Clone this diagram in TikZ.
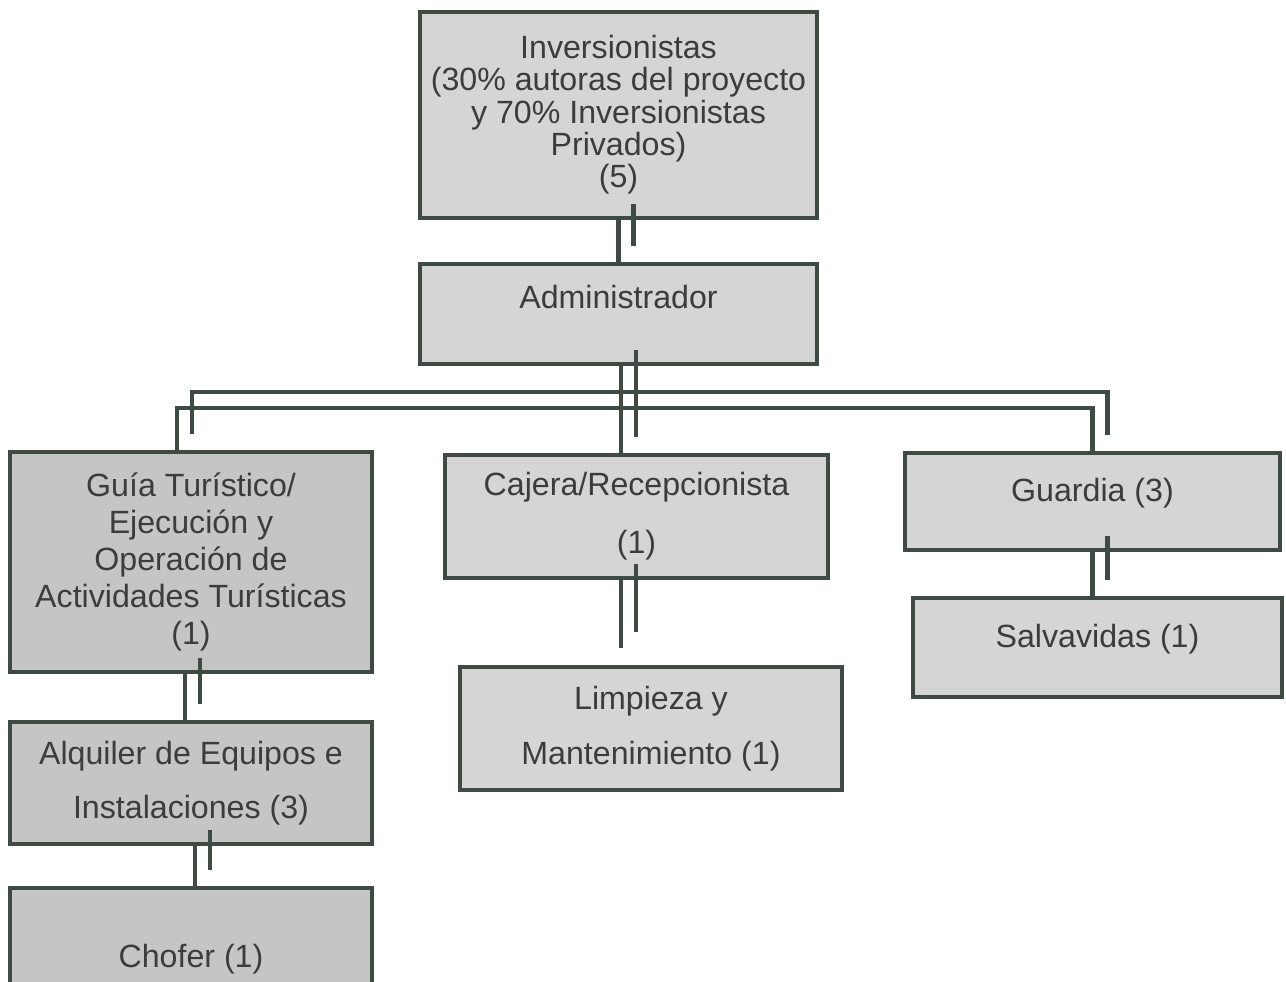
\documentclass[tikz,border=0pt]{standalone}
\usepackage{fontspec}
\setmainfont{Liberation Sans}
\usepackage{tikz}
\usetikzlibrary{positioning}

\definecolor{boxline}{HTML}{3E4B44}
\definecolor{lightfill}{HTML}{D5D5D5}
\definecolor{darkfill}{HTML}{C5C5C5}
\definecolor{textgray}{HTML}{3C3C3C}

% connectors between the units (drawn twice: line and its shifted copy)
\newcommand{\orglinks}{%
  \draw[link] (inv.south) -- (adm.north);
  \draw[link] (adm.south -| bus) -- (caj.north -| bus);
  \draw[link] ([xshift=-0.28cm]guia.north) |- (bus) -| (guard.north);
  \draw[link] (caj.south -| bus) -- ([yshift=0.34cm]limp.north -| bus);
  \draw[link] ([xshift=-0.12cm]guia.south) -- ([xshift=-0.12cm]alq.north);
  \draw[link] ([xshift=0.08cm]alq.south) -- ([xshift=0.08cm]chof.north);
  \draw[link] (guard.south) -- (guard.south |- salv.north);
}

\begin{document}
\begin{tikzpicture}[
      x=0.02cm, y=-0.02cm,
      unitbox/.style={rectangle, draw=boxline, line width=2.3pt, fill=lightfill,
        text=textgray, align=center, inner sep=0pt,
        font=\fontsize{18.3}{18.4}\selectfont},
      sidebox/.style={unitbox, fill=darkfill},
      link/.style={draw=boxline, line width=2.3pt},
      ]
      \useasboundingbox (0,0) rectangle (1286,982);
      %Nodes
      \node[unitbox, minimum width=7.94cm, minimum height=4.12cm] (inv) at (618.5,115)
        {Inversionistas\\(30\% autoras del proyecto\\y 70\% Inversionistas\\Privados)\\(5)};
      \node[unitbox, minimum width=7.94cm, minimum height=2.0cm,
        text height=13.3pt, text depth=19.5pt] (adm) [below=0.84cm of inv] {Administrador};

      \node[sidebox, minimum width=7.24cm, minimum height=4.4cm,
        font=\fontsize{18.3}{21}\selectfont] (guia) at (191,562)
        {Guía Turístico/\\Ejecución y\\Operación de\\Actividades Turísticas\\(1)};
      \node[unitbox, minimum width=7.66cm, minimum height=2.46cm,
        font=\fontsize{18.3}{33}\selectfont] (caj) at (636.5,516.5)
        {Cajera/Recepcionista\\(1)};
      \node[unitbox, minimum width=7.5cm, minimum height=1.94cm,
        text height=13.3pt, text depth=13.6pt] (guard) at (1092.5,501.5) {Guardia (3)};

      \node[sidebox, minimum width=7.24cm, minimum height=2.44cm,
        font=\fontsize{18.3}{30.6}\selectfont] (alq) [below=0.92cm of guia]
        {Alquiler de Equipos e\\Instalaciones (3)};
      \node[sidebox, minimum width=7.24cm, minimum height=2.84cm] (chof) [below=0.8cm of alq]
        {Chofer (1)};
      \node[unitbox, minimum width=7.64cm, minimum height=2.46cm,
        font=\fontsize{18.3}{31}\selectfont] (limp) at (651,728.5)
        {Limpieza y\\Mantenimiento (1)};
      \node[unitbox, minimum width=7.38cm, minimum height=1.98cm,
        text height=13.3pt, text depth=13.6pt] (salv) at (1097.5,647.5) {Salvavidas (1)};

      \coordinate (bus) at (621,408);

      %Links
      \orglinks
      \begin{scope}[transform canvas={shift={(0.3cm,0.32cm)}}]
        \orglinks
      \end{scope}
\end{tikzpicture}
\end{document}
